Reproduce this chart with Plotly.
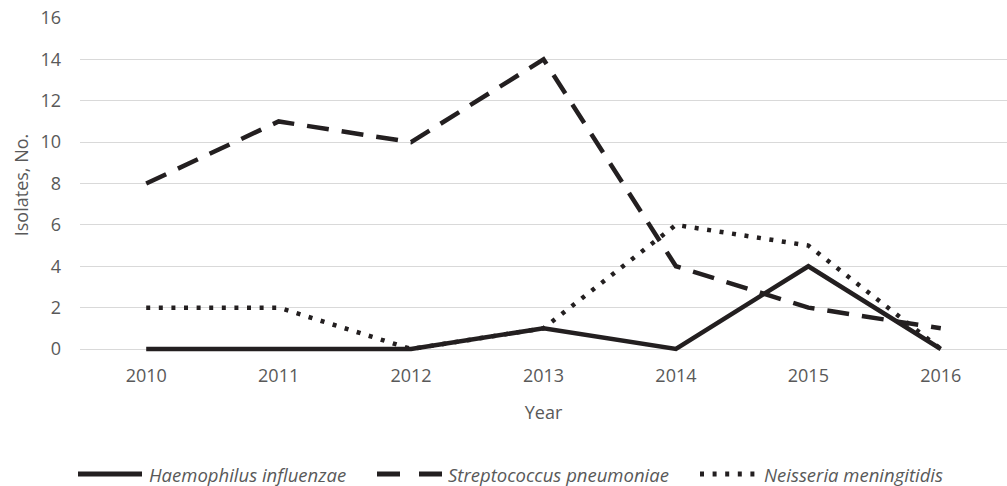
import plotly.graph_objects as go

years = ["2010", "2011", "2012", "2013", "2014", "2015", "2016"]
haemophilus = [0, 0, 0, 1, 0, 4, 0]
streptococcus = [8, 11, 10, 14, 4, 2, 1]
neisseria = [2, 2, 0, 1, 6, 5, 0]
y_ticks = [0, 2, 4, 6, 8, 10, 12, 14, 16]
series_names = ["Haemophilus influenzae", "Streptococcus pneumoniae", "Neisseria meningitidis"]

LINE = "#231f20"
TEXT = "#595959"
FONT = "Open Sans"
W, H = 1007, 486
ML, MR, MT, MB = 80, 0, 18, 134
Y_LOW = -3 * 16 / 331  # small room below zero so the zero lines are not clipped
PW, PH = W - ML - MR, H - MT - MB

dashes = ["solid", "22px,13px", "4px,8.6px"]
series = [haemophilus, streptococcus, neisseria]

fig = go.Figure()
for name, vals, dash in zip(series_names, series, dashes):
    fig.add_trace(go.Scatter(x=years, y=vals, mode="lines", name=name, showlegend=False,
                             line=dict(color=LINE, width=4.5, dash=dash)))

# custom legend (long line samples like the reference)
def px_x(p):
    return (p - ML) / PW

def px_y(p):
    return (H - MB - p) / PH

legend_items = [  # (line start px, line end px, text left px)
    (78, 142, 147),
    (377, 442, 446),
    (700, 755, 762),
]
leg_dash = ["solid", "23px,19px", "4px,8.6px"]
ly = px_y(474)
shapes = []
annotations = []
for (x0, x1, tx), name, dash in zip(legend_items, series_names, leg_dash):
    shapes.append(dict(type="line", xref="paper", yref="paper", x0=px_x(x0), x1=px_x(x1),
                       y0=ly, y1=ly, line=dict(color=LINE, width=5, dash=dash)))
    annotations.append(dict(xref="paper", yref="paper", x=px_x(tx), y=ly, xanchor="left",
                            yanchor="middle", text=name, showarrow=False,
                            font=dict(family=FONT, size=18.5, color=TEXT, style="italic")))

fig.update_layout(
    width=W, height=H,
    margin=dict(l=ML, r=MR, t=MT, b=MB),
    paper_bgcolor="white", plot_bgcolor="white",
    font=dict(family=FONT, size=18, color=TEXT),
    showlegend=False,
    shapes=shapes,
    annotations=annotations,
    xaxis=dict(type="category", range=[-0.5, 6.5], showgrid=False, zeroline=False, showline=False,
               ticks="", ticklabelstandoff=11, automargin=False,
               title=dict(text="Year", standoff=20, font=dict(size=18, color=TEXT))),
    yaxis=dict(range=[Y_LOW, 16], tickvals=y_ticks, showgrid=True, gridcolor="#d9d9d9", gridwidth=1.3,
               zeroline=False, showline=False, ticks="", ticklabelstandoff=18, automargin=False,
               title=dict(text="Isolates, No.", standoff=7, font=dict(size=18, color=TEXT))),
)

fig.write_html("out.html", config={"displayModeBar": False},
               post_script="document.body.style.margin='0px';")
